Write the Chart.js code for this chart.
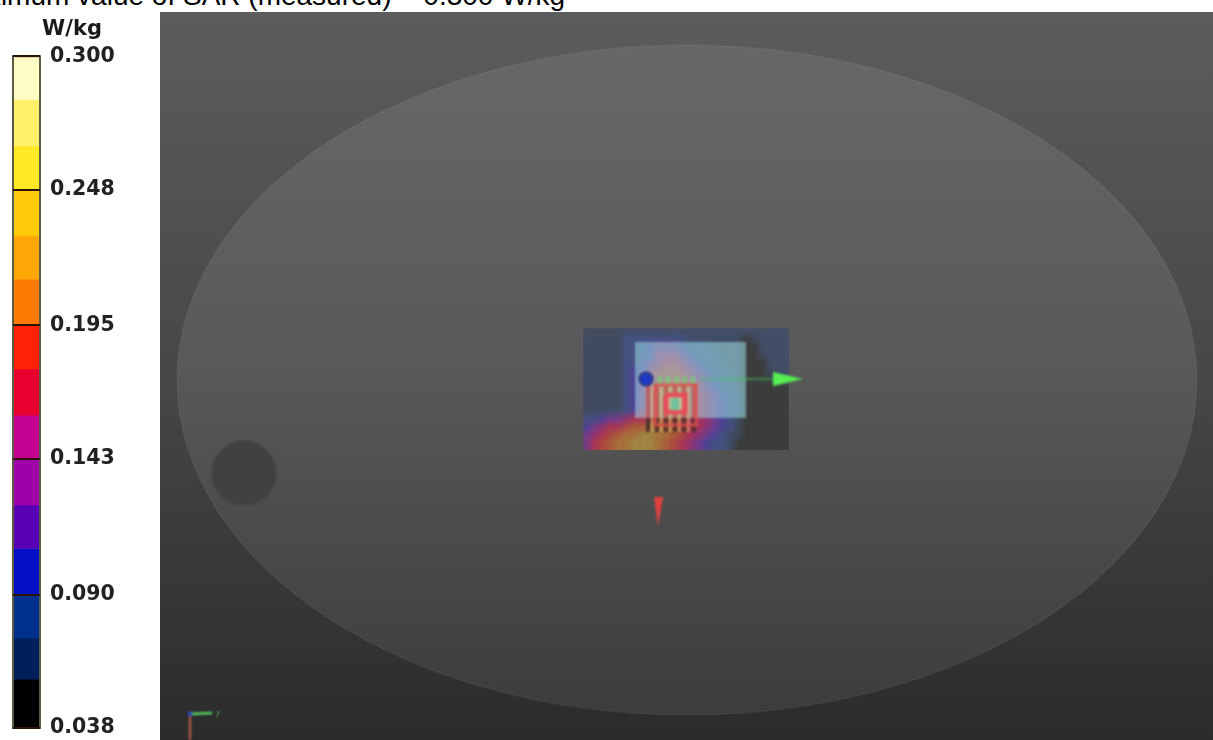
<!DOCTYPE html>
<html><head><meta charset="utf-8">
<style>
html,body{margin:0;padding:0;background:#fff;overflow:hidden;width:1213px;height:740px}
#head{position:absolute;right:calc(100% - 565px);top:-19px;font:28px/30px "Liberation Sans",Arial,sans-serif;color:#000;white-space:nowrap}
#bar{position:absolute;left:0;top:0;filter:blur(.5px)}
#panel{position:absolute;left:160px;top:12px;filter:blur(.4px)}
</style>
<script src="https://cdn.jsdelivr.net/npm/chart.js@4"></script>
</head><body>
<div id="head">Maximum value of SAR (measured) = 0.300 W/kg</div>
<canvas id="bar" width="131" height="740"></canvas>
<canvas id="panel" width="1053" height="728"></canvas>
<script>
// colour scale
const unitLabel = 'W/kg';
const tickValues = [0.300, 0.248, 0.195, 0.143, 0.090, 0.038];
const bandEdges = [0.300, 0.283, 0.265, 0.248, 0.230, 0.213, 0.195, 0.178, 0.160, 0.143, 0.125, 0.108, 0.090, 0.073, 0.057, 0.038];
const bandColors = ['#FFFBC4','#FFF268','#FFE924','#FFCB08','#FFA808','#FF7A00','#FF2208','#E8002E','#C40090','#A000A8','#5A00B4','#0410C4','#00308E','#00205C','#000000'];

// phantom geometry, in picture units
const phantom = {cx: 687, cy: 380, rx: 510, ry: 335};
const holeX = [244], holeY = [473];

// SAR scan, read on a coarse grid
const scanX = [587,595,603,611,619,627,635,643,651,659,667,675,683,691,699,707,715,723,731,739,747,755,763,771,779,787];
const scanY = [332,340,348,356,364,372,380,388,396,404,412,420,428,436,444,452];
const scanPalette = ['#383838','#3d4a62','#3f4d6c','#42528e','#4b3fa8','#7a3a9c','#a0307a','#c0305a','#c2473c','#c05f36','#bc7a38','#b49440'];
const scanLevels = [
 [1,1,1,1,1,2,2,2,2,2,2,2,2,2,2,2,2,2,2,2,2,2,2,2,2,2],
 [1,1,1,1,1,3,3,3,3,3,3,3,3,2,2,2,2,2,2,2,0,1,2,2,2,2],
 [1,1,1,1,1,3,3,3,4,5,5,5,4,3,3,3,2,2,2,2,0,0,2,2,2,2],
 [1,1,1,1,1,3,3,3,4,6,6,6,5,4,3,3,3,2,2,2,0,0,1,2,2,2],
 [1,1,1,1,1,3,3,4,5,6,7,7,6,5,4,3,3,2,2,2,0,0,0,2,2,2],
 [1,1,1,1,1,3,4,4,6,7,8,8,7,6,5,4,3,3,2,2,0,0,0,1,2,2],
 [1,1,1,1,1,3,4,5,6,8,8,8,8,7,6,5,4,3,3,2,0,0,0,0,1,2],
 [1,1,1,1,1,3,4,5,7,8,9,9,8,8,7,5,4,3,3,2,0,0,0,0,0,0],
 [1,1,1,1,1,3,4,5,7,8,9,9,9,8,7,6,5,4,3,3,0,0,0,0,0,0],
 [1,1,1,1,1,3,4,5,7,8,9,9,9,8,7,6,5,4,3,3,0,0,0,0,0,0],
 [1,1,1,2,2,3,4,6,7,8,9,9,8,8,7,6,5,4,3,3,0,0,0,0,0,0],
 [3,3,4,5,5,6,7,7,7,8,8,8,8,7,7,6,5,4,3,1,0,0,0,0,0,0],
 [4,5,6,7,7,8,9,9,10,10,9,9,8,7,7,6,5,4,3,1,0,0,0,0,0,0],
 [5,6,7,8,9,10,10,11,11,10,10,9,8,7,6,5,4,3,2,1,0,0,0,0,0,0],
 [5,7,8,9,10,10,11,11,11,10,9,8,7,6,5,4,3,3,2,0,0,0,0,0,0,0],
 [5,7,8,9,10,10,11,11,11,10,9,8,7,6,5,4,3,3,2,0,0,0,0,0,0,0]
];

// outlines
const zoomBoxX = [635,746,746,635,635], zoomBoxY = [342,342,418,418,342];
const outerSquareX = [655,696,696,655,655], outerSquareY = [385,385,425,425,385];
const innerSquareX = [666,685,685,666,666], innerSquareY = [395,395,412,412,395];
const coreX = [671,679,679,671,671], coreY = [398,398,410,410,398];
const redStripeX = [648,657,666,675,684,694];
const paleStripeX = [652,661,670,679,688];
const greenStripeX = [660,668,677,685,693];
const stripeTop = 385, stripeJoin = 418, stripeBottom = 432, greenTop = 376;
const greenShaftX = [700,776], greenShaftY = [379,379];
const greenHeadX = [773,803,773,773], greenHeadY = [372,379,386,372];
const redHeadX = [654,663,658,654], redHeadY = [497,497,526,497];
const probeX = [646], probeY = [379];
const axisGreenX = [190,212], axisGreenY = [714,713];
const axisRedX = [190,190], axisRedY = [715,740];
const axisDotX = [190], axisDotY = [714];

const xy = (xs, ys) => xs.map((x, i) => ({x, y: ys[i]}));
const pts = [];
scanLevels.forEach((row, j) => row.forEach((lev, i) => pts.push({x: scanX[i], y: scanY[j], lev})));

function poly(xs, ys, color, order, extra){
  return Object.assign({type:'scatter', showLine:true, data:xy(xs,ys), borderColor:color, backgroundColor:color,
    borderWidth:0, pointRadius:0, fill:'shape', tension:0, order}, extra||{});
}
function stroke(xs, ys, color, width, order){
  return {type:'scatter', showLine:true, data:xy(xs,ys), borderColor:color, backgroundColor:color,
    borderWidth:width, pointRadius:0, fill:false, tension:0, order, borderCapStyle:'butt'};
}
function dot(xs, ys, color, edge, radius, order){
  return {type:'scatter', data:xy(xs,ys), pointRadius:radius, pointBackgroundColor:color,
    pointBorderColor:edge, pointBorderWidth:1.5, order};
}

// legend bar
const bandData = bandColors.map((c, i) => ({
  label: 'band ' + i, data: [[bandEdges[i+1], bandEdges[i]]], backgroundColor: c, borderWidth: 0,
  barPercentage: 1, categoryPercentage: 1
}));
new Chart(document.getElementById('bar'), {
  type: 'bar',
  data: {labels: [unitLabel], datasets: bandData},
  options: {
    responsive:false, animation:false, devicePixelRatio:1,
    layout:{autoPadding:false, padding:{left:13,bottom:12}},
    plugins:{legend:{display:false}, tooltip:{enabled:false},
      title:{display:true, text:unitLabel, color:'#1a1a1a', padding:{top:17,bottom:14},
        font:{family:'"DejaVu Sans"', size:21, weight:'bold', lineHeight:1.2}}},
    scales:{
      x:{display:false, stacked:true},
      y:{position:'right', min:0.038, max:0.300,
        afterBuildTicks:s=>{s.ticks=tickValues.map(v=>({value:v}));},
        afterFit:s=>{s.width=91;s.paddingTop=0;s.paddingBottom=0;},
        border:{display:false},
        grid:{color:'#2a1408', lineWidth:2, z:1, drawTicks:false},
        ticks:{autoSkip:false, padding:10, color:'#222', callback:v=>v.toFixed(3),
          font:{family:'"DejaVu Sans"', size:20.5, weight:'bold'}}}
    }
  },
  plugins:[{id:'frame', afterDatasetsDraw(c){const a=c.chartArea,g=c.ctx;g.save();g.strokeStyle='#5c5c44';g.lineWidth=2;
    g.strokeRect(a.left,a.top,a.right-a.left,a.bottom-a.top);g.restore();}}]
});

// main view
const datasets = [
  dot(holeX, holeY, '#414141', '#414141', 31.5, 90),
  {type:'scatter', label:'scan', data:pts, pointStyle:'rect', pointRadius:6.4, pointBorderWidth:0,
   pointBackgroundColor:ctx=>scanPalette[ctx.raw?ctx.raw.lev:0], order:80},
  poly(zoomBoxX, zoomBoxY, 'rgba(165,235,235,0.5)', 70),
  ...redStripeX.map(x=>stroke([x,x],[stripeTop,stripeJoin],'rgba(200,70,60,0.75)',3.5,60)),
  ...paleStripeX.map(x=>stroke([x,x],[stripeTop,stripeBottom],'rgba(225,200,120,0.5)',3,61)),
  ...redStripeX.map(x=>stroke([x,x],[stripeJoin,stripeBottom],'rgba(70,45,45,0.85)',4,59)),
  ...greenStripeX.map(x=>stroke([x,x],[greenTop,stripeTop],'rgba(120,200,120,0.8)',4,58)),
  stroke(outerSquareX, outerSquareY, 'rgba(225,80,75,0.85)', 3, 50),
  poly(innerSquareX, innerSquareY, 'rgba(205,205,150,0.55)', 49),
  stroke(innerSquareX, innerSquareY, 'rgba(232,75,90,0.95)', 5, 48),
  poly(coreX, coreY, 'rgba(110,195,160,0.95)', 47),
  stroke(greenShaftX, greenShaftY, 'rgba(70,190,100,0.42)', 3, 40),
  poly(greenHeadX, greenHeadY, '#56ee52', 39),
  poly(redHeadX, redHeadY, '#e24040', 38),
  dot(probeX, probeY, '#2038c8', '#1c2a6a', 6.5, 37),
  stroke(axisRedX, axisRedY, '#c8604a', 2, 36),
  stroke(axisGreenX, axisGreenY, '#58d868', 2.5, 35),
  dot(axisDotX, axisDotY, '#3040c0', '#3040c0', 1.5, 34)
];
new Chart(document.getElementById('panel'), {
  type:'scatter',
  data:{datasets},
  options:{
    responsive:false, animation:false, devicePixelRatio:1, layout:{autoPadding:false, padding:0},
    plugins:{legend:{display:false}, tooltip:{enabled:false}, title:{display:false}},
    scales:{
      x:{type:'linear', display:false, min:160, max:1213},
      y:{type:'linear', display:false, min:12, max:740, reverse:true}
    }
  },
  plugins:[{
    id:'stage',
    beforeDatasetsDraw(c){
      const g=c.ctx, X=c.scales.x, Y=c.scales.y, a=c.chartArea;
      const v=(stops)=>{const gr=g.createLinearGradient(0,a.top,0,a.bottom);stops.forEach(s=>gr.addColorStop(s[0],s[1]));return gr;};
      g.save();
      g.fillStyle=v([[0,'#5c5c5c'],[0.5,'#474747'],[1,'#2b2b2b']]);
      g.fillRect(a.left,a.top,a.right-a.left,a.bottom-a.top);
      g.beginPath();
      g.ellipse(X.getPixelForValue(phantom.cx),Y.getPixelForValue(phantom.cy),
        X.getPixelForValue(phantom.cx+phantom.rx)-X.getPixelForValue(phantom.cx),
        Y.getPixelForValue(phantom.cy+phantom.ry)-Y.getPixelForValue(phantom.cy),0,0,Math.PI*2);
      g.fillStyle=v([[0,'#696969'],[0.5,'#585858'],[1,'#3a3a3a']]);
      g.fill();
      g.strokeStyle='rgba(255,255,255,0.035)';g.lineWidth=2;g.stroke();
      g.restore();
      g.filter='blur(1.1px)';
    },
    beforeDatasetDraw(c,args){
      if(c.data.datasets[args.index].label!=='scan')return;
      const g=c.ctx,X=c.scales.x,Y=c.scales.y;
      g.save();
      g.beginPath();
      g.rect(X.getPixelForValue(583),Y.getPixelForValue(328),X.getPixelForValue(789)-X.getPixelForValue(583),Y.getPixelForValue(450)-Y.getPixelForValue(328));
      g.clip();
      g.filter='blur(3px)';
    },
    afterDatasetDraw(c,args){
      if(c.data.datasets[args.index].label!=='scan')return;
      c.ctx.restore();
    },
    afterDatasetsDraw(c){
      const g=c.ctx;g.filter='none';g.save();g.fillStyle='#4a8a50';g.font='italic 8px "DejaVu Sans"';
      g.fillText('y',c.scales.x.getPixelForValue(216),c.scales.y.getPixelForValue(715));g.restore();
    }
  }]
});
</script>
</body></html>
